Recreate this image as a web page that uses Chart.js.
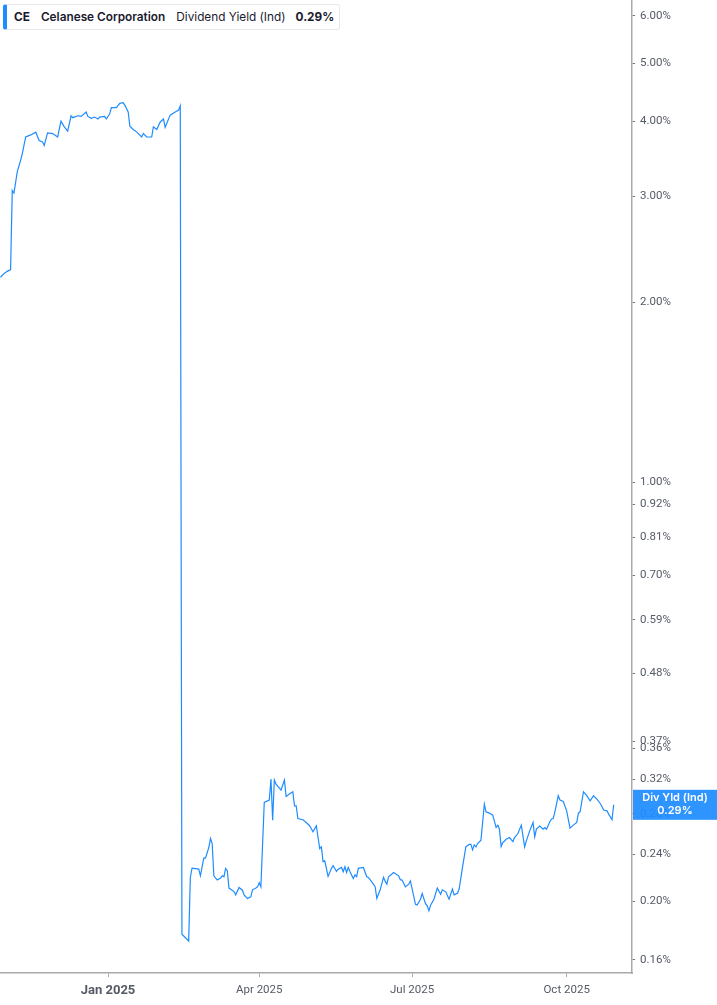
<!DOCTYPE html>
<html>
<head>
<meta charset="utf-8">
<script src="https://cdn.jsdelivr.net/npm/chart.js@4"></script>
<style>
  html, body { margin: 0; padding: 0; background: #fff; }
  #wrap { position: relative; width: 717px; height: 1005px; }
  #legend {
    position: absolute; left: 3px; top: 4px; height: 26px; width: 337px;
    box-sizing: border-box; border: 1px solid #e8e8ec; border-left: 4px solid #1e8cff;
    border-radius: 3px; background: #fff; display: flex; align-items: center;
    font-family: Inter, "Noto Sans", sans-serif; font-size: 11.8px; color: #1a1a2e; white-space: nowrap;
  }
  #legend .b { font-weight: 700; }
  #legend .sb { font-weight: 600; }
</style>
</head>
<body>
<div id="wrap">
  <canvas id="c" width="717" height="1005"></canvas>
  <div id="legend"><span class="b" style="margin-left:7px">CE</span><span class="sb" style="margin-left:11px">Celanese Corporation</span><span style="margin-left:11px">Dividend Yield (Ind)</span><span class="b" style="margin-left:10px">0.29%</span></div>
</div>
<script>
const dates = [
  '2024-10-29','2024-10-31','2024-11-02','2024-11-04','2024-11-05','2024-11-06','2024-11-08','2024-11-10','2024-11-11','2024-11-13',
  '2024-11-16','2024-11-19','2024-11-21','2024-11-23','2024-11-24','2024-11-26','2024-11-29','2024-12-02','2024-12-04','2024-12-06',
  '2024-12-08','2024-12-10','2024-12-11','2024-12-14','2024-12-16','2024-12-19','2024-12-20','2024-12-22','2024-12-24','2024-12-26',
  '2024-12-27','2024-12-30','2024-12-31','2025-01-02','2025-01-03','2025-01-06','2025-01-08','2025-01-10','2025-01-11','2025-01-13',
  '2025-01-14','2025-01-16','2025-01-18','2025-01-21','2025-01-22','2025-01-24','2025-01-27','2025-01-28','2025-01-30','2025-02-01',
  '2025-02-03','2025-02-04','2025-02-07','2025-02-10','2025-02-12','2025-02-13','2025-02-14','2025-02-18','2025-02-19','2025-02-20',
  '2025-02-24','2025-02-25','2025-02-27','2025-02-28','2025-03-02','2025-03-03','2025-03-04','2025-03-05','2025-03-07','2025-03-09',
  '2025-03-10','2025-03-11','2025-03-12','2025-03-13','2025-03-14','2025-03-17','2025-03-18','2025-03-20','2025-03-22','2025-03-23',
  '2025-03-25','2025-03-27','2025-03-28','2025-03-30','2025-03-31','2025-04-01','2025-04-02','2025-04-04','2025-04-07','2025-04-08',
  '2025-04-09','2025-04-10','2025-04-11','2025-04-14','2025-04-16','2025-04-17','2025-04-19','2025-04-21','2025-04-22','2025-04-23',
  '2025-04-24','2025-04-27','2025-04-29','2025-05-01','2025-05-03','2025-05-05','2025-05-07','2025-05-08','2025-05-09','2025-05-10',
  '2025-05-12','2025-05-14','2025-05-15','2025-05-17','2025-05-18','2025-05-20','2025-05-21','2025-05-22','2025-05-23','2025-05-24',
  '2025-05-25','2025-05-27','2025-05-28','2025-05-29','2025-05-30','2025-06-02','2025-06-04','2025-06-05','2025-06-07','2025-06-09',
  '2025-06-10','2025-06-12','2025-06-14','2025-06-15','2025-06-16','2025-06-17','2025-06-20','2025-06-23','2025-06-24','2025-06-25',
  '2025-06-27','2025-06-29','2025-06-30','2025-07-03','2025-07-04','2025-07-06','2025-07-07','2025-07-09','2025-07-10','2025-07-11',
  '2025-07-12','2025-07-14','2025-07-16','2025-07-18','2025-07-19','2025-07-21','2025-07-23','2025-07-25','2025-07-26','2025-07-28',
  '2025-07-29','2025-07-31','2025-08-02','2025-08-04','2025-08-05','2025-08-06','2025-08-07','2025-08-08','2025-08-09','2025-08-11',
  '2025-08-13','2025-08-14','2025-08-16','2025-08-18','2025-08-20','2025-08-21','2025-08-22','2025-08-23','2025-08-24','2025-08-26',
  '2025-08-28','2025-08-30','2025-08-31','2025-09-02','2025-09-04','2025-09-06','2025-09-07','2025-09-09','2025-09-11','2025-09-12',
  '2025-09-13','2025-09-15','2025-09-17','2025-09-18','2025-09-19','2025-09-21','2025-09-22','2025-09-23','2025-09-24','2025-09-26',
  '2025-09-27','2025-09-29','2025-10-01','2025-10-03','2025-10-05','2025-10-07','2025-10-08','2025-10-09','2025-10-11','2025-10-13',
  '2025-10-15','2025-10-17','2025-10-19','2025-10-21','2025-10-22','2025-10-23','2025-10-25','2025-10-26','2025-10-28','2025-10-29'
];
const yieldPct = [
  2.20,2.23,2.25,2.265,3.07,3.04,3.30,3.45,3.54,3.77,
  3.80,3.84,3.72,3.70,3.65,3.83,3.82,3.77,4.005,3.92,
  3.855,4.09,4.06,4.09,4.08,4.15,4.08,4.05,4.07,4.04,
  4.07,4.08,4.04,4.12,4.22,4.22,4.29,4.30,4.26,4.15,
  3.93,3.88,3.845,3.77,3.82,3.77,3.77,3.92,3.88,3.99,
  4.04,3.91,4.10,4.15,4.18,4.25,0.1764,0.1719,0.2194,0.2274,
  0.2265,0.2208,0.2363,0.2363,0.2461,0.2548,0.2499,0.2208,0.2172,0.2189,
  0.2208,0.2200,0.2272,0.2252,0.2106,0.2078,0.2052,0.2111,0.2089,0.2052,
  0.2023,0.2036,0.2092,0.2106,0.2116,0.2151,0.2116,0.2926,0.2953,0.3201,
  0.2734,0.3189,0.3140,0.3069,0.3189,0.2995,0.3023,0.3049,0.2889,0.2889,
  0.2751,0.2738,0.2710,0.2676,0.2615,0.2676,0.2451,0.2467,0.2330,0.2339,
  0.2203,0.2272,0.2295,0.2245,0.2265,0.2280,0.2242,0.2286,0.2236,0.2280,
  0.2245,0.2185,0.2216,0.2200,0.2272,0.2280,0.2200,0.2194,0.2157,0.2118,
  0.2025,0.2092,0.2194,0.2161,0.2138,0.2200,0.2236,0.2208,0.2175,0.2172,
  0.2116,0.2138,0.2165,0.1979,0.1974,0.2018,0.2062,0.1984,0.1967,0.1930,
  0.1972,0.2018,0.2106,0.2057,0.2092,0.2076,0.2018,0.2098,0.2052,0.2065,
  0.2098,0.2280,0.2467,0.2492,0.2492,0.2439,0.2486,0.2467,0.2499,0.2532,
  0.2908,0.2823,0.2809,0.2787,0.2658,0.2682,0.2641,0.2470,0.2508,0.2541,
  0.2557,0.2518,0.2557,0.2597,0.2682,0.2467,0.2525,0.2624,0.2710,0.2564,
  0.2641,0.2673,0.2641,0.2658,0.2641,0.2717,0.2746,0.2751,0.2823,0.3003,
  0.2953,0.2937,0.2834,0.2652,0.2682,0.2710,0.2809,0.2823,0.3049,0.3003,
  0.2945,0.3003,0.2965,0.2915,0.2881,0.2842,0.2834,0.2798,0.2738,0.29
];
const yTickValues = [6,5,4,3,2,1,0.92,0.81,0.70,0.59,0.48,0.37,0.36,0.32,0.28,0.24,0.20,0.16];
const xTickDates = ['2025-01-01','2025-04-01','2025-07-01','2025-10-01'];
const xTickLabels = ['Jan 2025','Apr 2025','Jul 2025','Oct 2025'];
const seriesLabel = 'Div Yld (Ind)';

const BASE = Date.parse('2025-01-01');
const dayOf = s => (Date.parse(s) - BASE) / 864e5;
const points = dates.map((d, i) => ({ x: dayOf(d), y: yieldPct[i] }));
const LINE_BLUE = '#1e8cff';

const lastLabel = {
  id: 'lastLabel',
  afterDraw(chart) {
    const ys = chart.scales.y, ca = chart.chartArea, ctx = chart.ctx;
    const last = yieldPct[yieldPct.length - 1];
    const py = ys.getPixelForValue(last);
    const x0 = ca.right + 1, w = chart.width - x0, h = 30;
    ctx.save();
    ctx.fillStyle = 'rgba(30,140,255,0.93)';
    ctx.fillRect(x0, py - h / 2, w, h);
    ctx.fillStyle = '#fff';
    ctx.textAlign = 'center';
    ctx.textBaseline = 'middle';
    ctx.font = '600 11px Inter, "Noto Sans", sans-serif';
    ctx.fillText(seriesLabel, x0 + w / 2, py - 7);
    ctx.fillText(last.toFixed(2) + '%', x0 + w / 2, py + 6);
    ctx.restore();
  }
};

new Chart(document.getElementById('c'), {
  type: 'line',
  data: {
    datasets: [{
      data: points,
      borderColor: LINE_BLUE,
      borderWidth: 1.2,
      pointRadius: 0,
      tension: 0,
      fill: false
    }]
  },
  options: {
    responsive: false,
    animation: false,
    layout: { padding: 0 },
    plugins: { legend: { display: false }, tooltip: { enabled: false } },
    scales: {
      x: {
        type: 'linear',
        min: -64.3,
        max: 311.9,
        afterBuildTicks: s => { s.ticks = xTickDates.map(d => ({ value: dayOf(d) })); },
        afterFit: s => { s.height = 32; s.paddingLeft = 0; s.paddingRight = 0; },
        border: { display: true, color: '#a9a9a9', width: 1.5 },
        grid: { drawOnChartArea: false, drawTicks: true, tickLength: 4, color: '#a9a9a9' },
        ticks: {
          autoSkip: false, maxRotation: 0, padding: 6, color: '#555a66',
          font: ctx => ctx.index === 0 ? { family: 'Roboto', size: 13, weight: 'bold' } : { family: 'Roboto', size: 11.5 },
          callback: (v, i) => xTickLabels[i]
        }
      },
      y: {
        type: 'logarithmic',
        position: 'right',
        min: 0.152,
        max: 6.38,
        afterBuildTicks: s => { s.ticks = yTickValues.map(v => ({ value: v })); },
        afterFit: s => { s.width = 85; s.paddingTop = 0; s.paddingBottom = 0; },
        border: { display: true, color: '#a9a9a9', width: 1.5 },
        grid: { drawOnChartArea: false, drawTicks: true, tickLength: 3, color: '#777' },
        ticks: {
          autoSkip: false, padding: 5, color: '#555a66',
          font: { family: 'Roboto', size: 11.5 },
          callback: v => Number(v).toFixed(2) + '%'
        }
      }
    }
  },
  plugins: [lastLabel]
});
</script>
</body>
</html>
